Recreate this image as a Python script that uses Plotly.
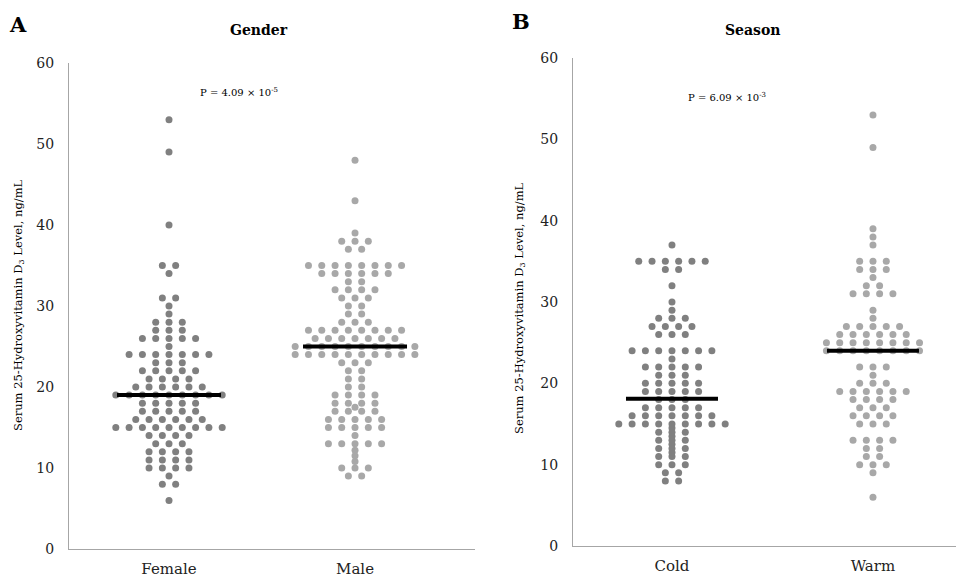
import plotly.graph_objects as go

# ---------------- data ----------------
female_vals   = [53, 49, 40, 35, 34, 31, 30, 29, 28, 27, 26, 25, 24, 23, 22, 21, 20, 19, 18, 17, 16, 15, 14, 13, 12, 11, 10, 9, 8, 6]
female_counts = [1, 1, 1, 2, 1, 2, 1, 1, 3, 3, 5, 1, 7, 3, 5, 4, 6, 9, 5, 5, 6, 9, 4, 3, 4, 4, 4, 1, 2, 1]

male_vals   = [48, 43, 39, 38, 37, 35, 34, 33, 32, 31, 30, 29, 28, 27, 26, 25, 24, 23, 22, 21, 20, 19, 18, 17.5, 17, 16, 15, 14, 13, 12.2, 11.5, 10.8, 10, 9]
male_counts = [1, 1, 1, 3, 2, 8, 6, 2, 4, 3, 2, 2, 3, 8, 7, 10, 10, 3, 2, 2, 2, 4, 4, 1, 4, 5, 5, 1, 5, 1, 1, 1, 3, 2]

cold_vals   = [37, 35, 34, 32, 30, 29, 28, 27, 26, 24, 23, 22, 21, 20, 19, 18, 17, 16, 15, 14.5, 14, 13.5, 13, 12.5, 12, 11.5, 11, 10, 9, 8]
cold_counts = [1, 6, 2, 1, 1, 1, 3, 4, 3, 7, 1, 5, 3, 5, 5, 3, 5, 7, 9, 1, 3, 1, 3, 1, 3, 1, 3, 3, 2, 2]

warm_vals   = [53, 49, 39, 38, 37, 35, 34, 33, 32, 31, 29, 28, 27, 26, 25, 24, 22, 21, 20, 19, 18, 17, 16, 15, 13, 12, 11, 10, 9, 6]
warm_counts = [1, 1, 1, 1, 1, 3, 3, 1, 2, 4, 1, 1, 5, 6, 8, 8, 3, 1, 3, 6, 4, 3, 4, 3, 4, 2, 2, 3, 1, 1]

gender_cats = ["Female", "Male"]
season_cats = ["Cold", "Warm"]
gender_medians = [19, 25]
season_medians = [18.1, 24]
y_ticks = [0, 10, 20, 30, 40, 50, 60]

# ---------------- layout geometry (reference pixel coords) ----------------
W, H = 964, 583
OFF = 8  # page body margin
A_dom_px = (69, 475)
B_dom_px = (573, 960)
A_range = [0.4624, 2.645]
B_range = [0.5075, 2.433]
A_ydom_px = (549, 63)
B_ydom_px = (546, 58)

def ppu(dom, rng):
    return (dom[1] - dom[0]) / (rng[1] - rng[0])

A_ppu = ppu(A_dom_px, A_range)
B_ppu = ppu(B_dom_px, B_range)
SPACING = 13.3  # px between neighbouring dots in a row


def swarm(vals, counts, center, px_per_unit):
    xs, ys = [], []
    for v, n in zip(vals, counts):
        for i in range(n):
            xs.append(center + (i - (n - 1) / 2) * SPACING / px_per_unit)
            ys.append(v)
    return xs, ys

DARK = "#808080"
LIGHT = "#a8a8a8"
FONT = "DejaVu Serif"

fig = go.Figure()

groups = [
    (female_vals, female_counts, 1, A_ppu, DARK, "x", "y"),
    (male_vals, male_counts, 2, A_ppu, LIGHT, "x", "y"),
    (cold_vals, cold_counts, 1, B_ppu, DARK, "x2", "y2"),
    (warm_vals, warm_counts, 2, B_ppu, LIGHT, "x2", "y2"),
]
for vals, counts, c, p, col, xa, ya in groups:
    xs, ys = swarm(vals, counts, c, p)
    fig.add_trace(go.Scatter(x=xs, y=ys, mode="markers", xaxis=xa, yaxis=ya,
                             marker=dict(size=7, color=col, line=dict(width=0)),
                             showlegend=False, hoverinfo="y"))

for i, m in enumerate(gender_medians):
    hw = 52 / A_ppu
    fig.add_trace(go.Scatter(x=[i + 1 - hw, i + 1 + hw], y=[m, m], mode="lines",
                             line=dict(color="black", width=4), xaxis="x", yaxis="y",
                             showlegend=False, hoverinfo="skip"))
for i, m in enumerate(season_medians):
    hw = 46 / B_ppu
    fig.add_trace(go.Scatter(x=[i + 1 - hw, i + 1 + hw], y=[m, m], mode="lines",
                             line=dict(color="black", width=4), xaxis="x2", yaxis="y2",
                             showlegend=False, hoverinfo="skip"))

def xd(px):
    return ((px[0] - OFF) / W, (px[1] - OFF) / W)

def yd(px):
    return ((H - (px[0] - OFF)) / H, (H - (px[1] - OFF)) / H)

axis_common = dict(showgrid=False, zeroline=False, showline=True, linecolor="#a6a6a6",
                   linewidth=1, ticks="", automargin=False)

fig.update_layout(
    width=W, height=H, margin=dict(l=0, r=0, t=0, b=0),
    paper_bgcolor="white", plot_bgcolor="white",
    xaxis=dict(domain=xd(A_dom_px), range=A_range, tickvals=[1, 2], ticktext=gender_cats,
               anchor="y", ticklabelstandoff=6, tickfont=dict(family=FONT, size=15, color="#222"),
               **axis_common),
    yaxis=dict(domain=yd(A_ydom_px), range=[0, 60], tickvals=y_ticks, anchor="x",
               ticklabelstandoff=11, tickfont=dict(family=FONT, size=14, color="#222"),
               **axis_common),
    xaxis2=dict(domain=xd(B_dom_px), range=B_range, tickvals=[1, 2], ticktext=season_cats,
                anchor="y2", ticklabelstandoff=6, tickfont=dict(family=FONT, size=15, color="#222"),
                **axis_common),
    yaxis2=dict(domain=yd(B_ydom_px), range=[0, 60], tickvals=y_ticks, anchor="x2",
                ticklabelstandoff=11, tickfont=dict(family=FONT, size=14, color="#222"),
                **axis_common),
)

def ann(text, x, y, size, bold=False, angle=0):
    fig.add_annotation(text=("<b>%s</b>" % text) if bold else text,
                       x=(x - OFF) / W, y=1 - (y - OFF) / H, xref="paper", yref="paper",
                       showarrow=False, textangle=angle,
                       font=dict(family=FONT, size=size, color="black"),
                       xanchor="center", yanchor="middle")

ann("A", 18, 24, 21, bold=True)
ann("B", 521, 22, 21, bold=True)
ann("Gender", 259, 30, 14, bold=True)
ann("Season", 753, 30, 14, bold=True)
ann("P = 4.09 × 10<sup>-5</sup>", 239, 92, 10)
ann("P = 6.09 × 10<sup>-3</sup>", 727, 97, 10)
ytitle = "Serum 25-Hydroxyvitamin D<sub>3</sub> Level, ng/mL"
ann(ytitle, 18, 305, 11.5, angle=-90)
ann(ytitle, 519, 308, 11.5, angle=-90)

fig.write_html("out.html")
